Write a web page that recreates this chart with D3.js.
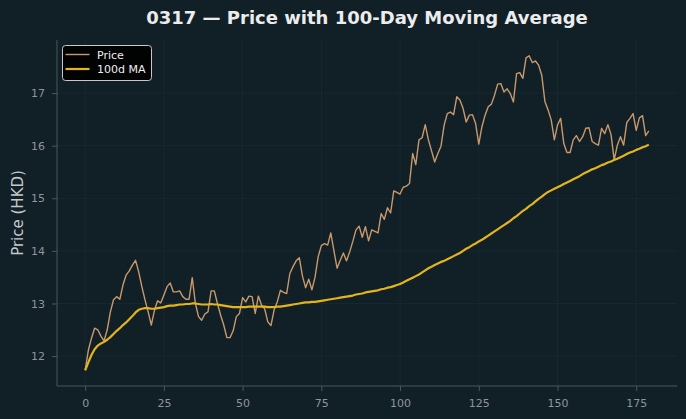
<!DOCTYPE html>
<html>
<head>
<meta charset="utf-8">
<script src="https://cdn.jsdelivr.net/npm/d3@7"></script>
<style>
  html, body { margin: 0; padding: 0; background: #111f27; }
  svg { display: block; font-family: "DejaVu Sans", sans-serif; }
</style>
</head>
<body>
<svg id="chart" width="686" height="419"></svg>
<script>
// ---- data ----
const days = d3.range(0, 180);
const price = [
  11.73, 12.11, 12.34, 12.53, 12.50, 12.38, 12.29, 12.50, 12.84, 13.07,
  13.13, 13.08, 13.35, 13.54, 13.62, 13.73, 13.82, 13.60, 13.32, 13.07,
  12.84, 12.59, 12.87, 13.05, 13.01, 13.16, 13.32, 13.39, 13.22, 13.22,
  13.24, 13.13, 13.08, 13.08, 13.49, 13.00, 12.75, 12.68, 12.80, 12.84,
  13.24, 13.24, 13.00, 12.78, 12.59, 12.35, 12.35, 12.48, 12.75, 12.81,
  13.11, 13.03, 13.14, 13.13, 12.81, 13.14, 12.97, 12.90, 12.65, 12.58,
  12.88, 13.03, 13.25, 13.21, 13.19, 13.57, 13.70, 13.81, 13.87, 13.52,
  13.30, 13.46, 13.26, 13.50, 13.89, 14.10, 14.14, 14.11, 14.34, 14.00,
  13.67, 13.82, 13.96, 13.81, 13.98, 14.18, 14.40, 14.47, 14.26, 14.46,
  14.19, 14.40, 14.37, 14.34, 14.71, 14.60, 14.82, 14.72, 15.14, 15.11,
  15.08, 15.21, 15.23, 15.28, 15.85, 15.64, 16.11, 16.15, 16.40, 16.11,
  15.90, 15.69, 15.85, 15.99, 16.39, 16.61, 16.64, 16.59, 16.93, 16.87,
  16.71, 16.45, 16.58, 16.59, 16.42, 16.03, 16.36, 16.58, 16.74, 16.79,
  16.96, 17.17, 17.18, 17.02, 17.08, 16.99, 16.83, 17.37, 17.39, 17.28,
  17.67, 17.71, 17.58, 17.61, 17.53, 17.34, 16.84, 16.68, 16.49, 16.11,
  16.39, 16.52, 16.04, 15.87, 15.87, 16.11, 16.19, 16.08, 16.17, 16.33,
  16.34, 16.08, 16.04, 16.01, 16.33, 16.23, 16.40, 16.21, 15.73, 16.01,
  16.17, 16.01, 16.44, 16.52, 16.61, 16.29, 16.53, 16.57, 16.19, 16.28
];
const ma100 = [
  11.73, 11.88, 12.02, 12.13, 12.20, 12.24, 12.27, 12.31, 12.36, 12.42,
  12.48, 12.53, 12.59, 12.64, 12.70, 12.76, 12.83, 12.88, 12.90, 12.91,
  12.91, 12.90, 12.90, 12.91, 12.92, 12.93, 12.95, 12.96, 12.96, 12.97,
  12.98, 12.98, 12.99, 12.99, 13.00, 13.00, 12.99, 12.98, 12.98, 12.98,
  12.99, 12.98, 12.98, 12.97, 12.96, 12.95, 12.94, 12.93, 12.93, 12.93,
  12.93, 12.93, 12.94, 12.94, 12.94, 12.94, 12.94, 12.94, 12.93, 12.93,
  12.93, 12.94, 12.94, 12.95, 12.96, 12.97, 12.98, 12.99, 13.00, 13.01,
  13.02, 13.02, 13.03, 13.03, 13.04, 13.05, 13.06, 13.07, 13.08, 13.09,
  13.10, 13.11, 13.12, 13.13, 13.14, 13.15, 13.17, 13.18, 13.19, 13.21,
  13.22, 13.23, 13.24, 13.25, 13.27, 13.28, 13.30, 13.31, 13.33, 13.35,
  13.37, 13.40, 13.43, 13.46, 13.49, 13.52, 13.55, 13.59, 13.63, 13.67,
  13.70, 13.73, 13.76, 13.79, 13.81, 13.84, 13.87, 13.90, 13.93, 13.96,
  14.00, 14.04, 14.07, 14.11, 14.14, 14.18, 14.21, 14.25, 14.29, 14.33,
  14.37, 14.41, 14.45, 14.49, 14.53, 14.57, 14.62, 14.66, 14.71, 14.76,
  14.80, 14.85, 14.89, 14.94, 14.99, 15.03, 15.08, 15.12, 15.15, 15.18,
  15.21, 15.24, 15.27, 15.30, 15.33, 15.36, 15.39, 15.42, 15.46, 15.49,
  15.52, 15.55, 15.57, 15.60, 15.63, 15.65, 15.68, 15.70, 15.73, 15.75,
  15.78, 15.81, 15.84, 15.87, 15.89, 15.92, 15.94, 15.97, 15.99, 16.02
];
const xTicks = [0, 25, 50, 75, 100, 125, 150, 175];
const yTicks = [12, 13, 14, 15, 16, 17];
const titleText = "0317 \u2014 Price with 100-Day Moving Average";
const yLabel = "Price (HKD)";
const seriesNames = ["Price", "100d MA"];

// ---- layout ----
const W = 686, H = 419;
const plot = { left: 57, right: 677, top: 40, bottom: 386 };
const colors = { bg: "#111f27", price: "#c8996c", ma: "#e3b41c", grid: "#1b2a32",
  spine: "#4d575c", tick: "#8d969b", title: "#ececec", label: "#c3c8cb" };

const svg = d3.select("#chart");
svg.append("rect").attr("width", W).attr("height", H).attr("fill", colors.bg);

const xPad = (d3.max(days) - d3.min(days)) * 0.05;
const allY = price.concat(ma100);
const yMin = d3.min(allY), yMax = d3.max(allY), yPad = (yMax - yMin) * 0.05;

const x = d3.scaleLinear().domain([d3.min(days) - xPad, d3.max(days) + xPad])
  .range([plot.left, plot.right]);
const y = d3.scaleLinear().domain([yMin - yPad, yMax + yPad])
  .range([plot.bottom, plot.top]);

// grid
const g = svg.append("g");
g.selectAll("line.vg").data(xTicks).join("line")
  .attr("x1", d => x(d)).attr("x2", d => x(d))
  .attr("y1", plot.top).attr("y2", plot.bottom)
  .attr("stroke", colors.grid).attr("stroke-width", 0.8);
g.selectAll("line.hg").data(yTicks).join("line")
  .attr("x1", plot.left).attr("x2", plot.right)
  .attr("y1", d => y(d)).attr("y2", d => y(d))
  .attr("stroke", colors.grid).attr("stroke-width", 0.8);

// axes
const xAxis = d3.axisBottom(x).tickValues(xTicks).tickSize(5).tickPadding(8).tickFormat(d3.format("d"));
const yAxis = d3.axisLeft(y).tickValues(yTicks).tickSize(5).tickPadding(7).tickFormat(d3.format("d"));

const gx = svg.append("g").attr("transform", `translate(0,${plot.bottom})`).call(xAxis);
const gy = svg.append("g").attr("transform", `translate(${plot.left},0)`).call(yAxis);
[gx, gy].forEach(ax => {
  ax.select(".domain").attr("stroke", colors.spine).attr("stroke-width", 1);
  ax.selectAll(".tick line").attr("stroke", colors.spine).attr("stroke-width", 1);
  ax.selectAll(".tick text").attr("fill", colors.tick)
    .attr("font-family", "DejaVu Sans").attr("font-size", "11px");
});
gx.select(".domain").attr("d", `M${plot.left},0H${plot.right}`);
gy.select(".domain").attr("d", `M0,${plot.bottom}V${plot.top}`);

// lines
const lineP = d3.line().x((d, i) => x(days[i])).y(d => y(d));
svg.append("path").datum(price).attr("d", lineP)
  .attr("fill", "none").attr("stroke", colors.price).attr("stroke-width", 1.4)
  .attr("stroke-linejoin", "round");
svg.append("path").datum(ma100).attr("d", lineP)
  .attr("fill", "none").attr("stroke", colors.ma).attr("stroke-width", 2.2)
  .attr("stroke-linejoin", "round");

// title
svg.append("text").attr("x", (plot.left + plot.right) / 2).attr("y", 24)
  .attr("text-anchor", "middle").attr("fill", colors.title)
  .attr("font-size", "18px").attr("font-weight", "bold").text(titleText);

// y label
svg.append("text").attr("transform", `translate(23,${(plot.top + plot.bottom) / 2}) rotate(-90)`)
  .attr("text-anchor", "middle").attr("fill", colors.label)
  .attr("font-size", "15px").text(yLabel);

// legend
const lg = svg.append("g");
lg.append("rect").attr("x", 62.5).attr("y", 45.5).attr("width", 89).attr("height", 35)
  .attr("rx", 3).attr("fill", "#000000").attr("fill-opacity", 0.9)
  .attr("stroke", "#c8c8c8").attr("stroke-width", 1);
const legendItems = [
  { name: seriesNames[0], color: colors.price, w: 1.4, yy: 54.5 },
  { name: seriesNames[1], color: colors.ma, w: 2.2, yy: 69 }
];
legendItems.forEach(it => {
  lg.append("line").attr("x1", 65.5).attr("x2", 89.5).attr("y1", it.yy).attr("y2", it.yy)
    .attr("stroke", it.color).attr("stroke-width", it.w);
  lg.append("text").attr("x", 97).attr("y", it.yy + 4).attr("fill", "#eeeeee")
    .attr("font-size", "11px").text(it.name);
});
</script>
</body>
</html>
